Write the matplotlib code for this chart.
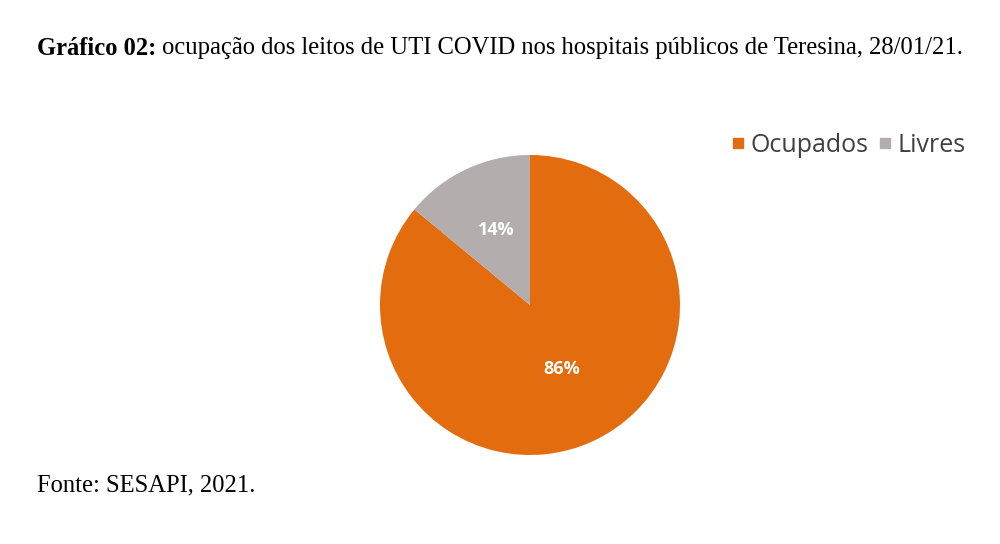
import matplotlib
matplotlib.use("Agg")
import matplotlib.pyplot as plt
from matplotlib.lines import Line2D

labels = ["Ocupados", "Livres"]
values = [86, 14]
colors = ["#E36C0E", "#B4ADAD"]

title_bold = "Gráfico 02:"
title_rest = " ocupação dos leitos de UTI COVID nos hospitais públicos de Teresina, 28/01/21."
source = "Fonte: SESAPI, 2021."

fig = plt.figure(figsize=(10, 5.44), dpi=100)
fig.patch.set_facecolor("white")

# pie area: center ~ (530, 305) px, radius ~150 px
ax = fig.add_axes([0.38, 0.1636, 0.30, 300 / 544])
wedges, texts, autotexts = ax.pie(
    values, colors=colors, startangle=90, counterclock=False,
    autopct=lambda p: f"{p:.0f}%", pctdistance=0.5,
    textprops=dict(color="white", fontsize=13, fontweight="bold", family="Open Sans"),
    wedgeprops=dict(linewidth=0),
)
# labels sit slightly differently in the original
x0, y0 = autotexts[0].get_position()
autotexts[0].set_position((x0, y0 * 0.94))
x1, y1 = autotexts[1].get_position()
autotexts[1].set_position((x1 * 1.05, y1 * 1.1))
ax.set_xlim(-1, 1)
ax.set_ylim(-1, 1)
ax.set_aspect("equal")

# title, bold part followed by normal part
t1 = fig.text(0.037, 0.911, title_bold, family="Liberation Serif", fontsize=17.7,
              fontweight="bold", va="center")
fig.canvas.draw()
bb = t1.get_window_extent()
x2 = bb.x1 / fig.bbox.width
fig.text(x2, 0.911, title_rest, family="Liberation Serif", fontsize=17.7, va="center")

fig.text(0.037, 0.108, source, family="Liberation Serif", fontsize=17.7, va="center")

handles = [Line2D([], [], marker="s", linestyle="none", markersize=7,
                  markerfacecolor=c, markeredgecolor=c) for c in colors]
fig.legend(handles, labels, loc="center", bbox_to_anchor=(0.8465, 0.733),
           ncol=2, frameon=False, handletextpad=0.1, columnspacing=0.25,
           prop=dict(family="Open Sans", size=18), labelcolor="#404040",
           handlelength=0.8)

fig.savefig("out.png", dpi=100, facecolor="white")
